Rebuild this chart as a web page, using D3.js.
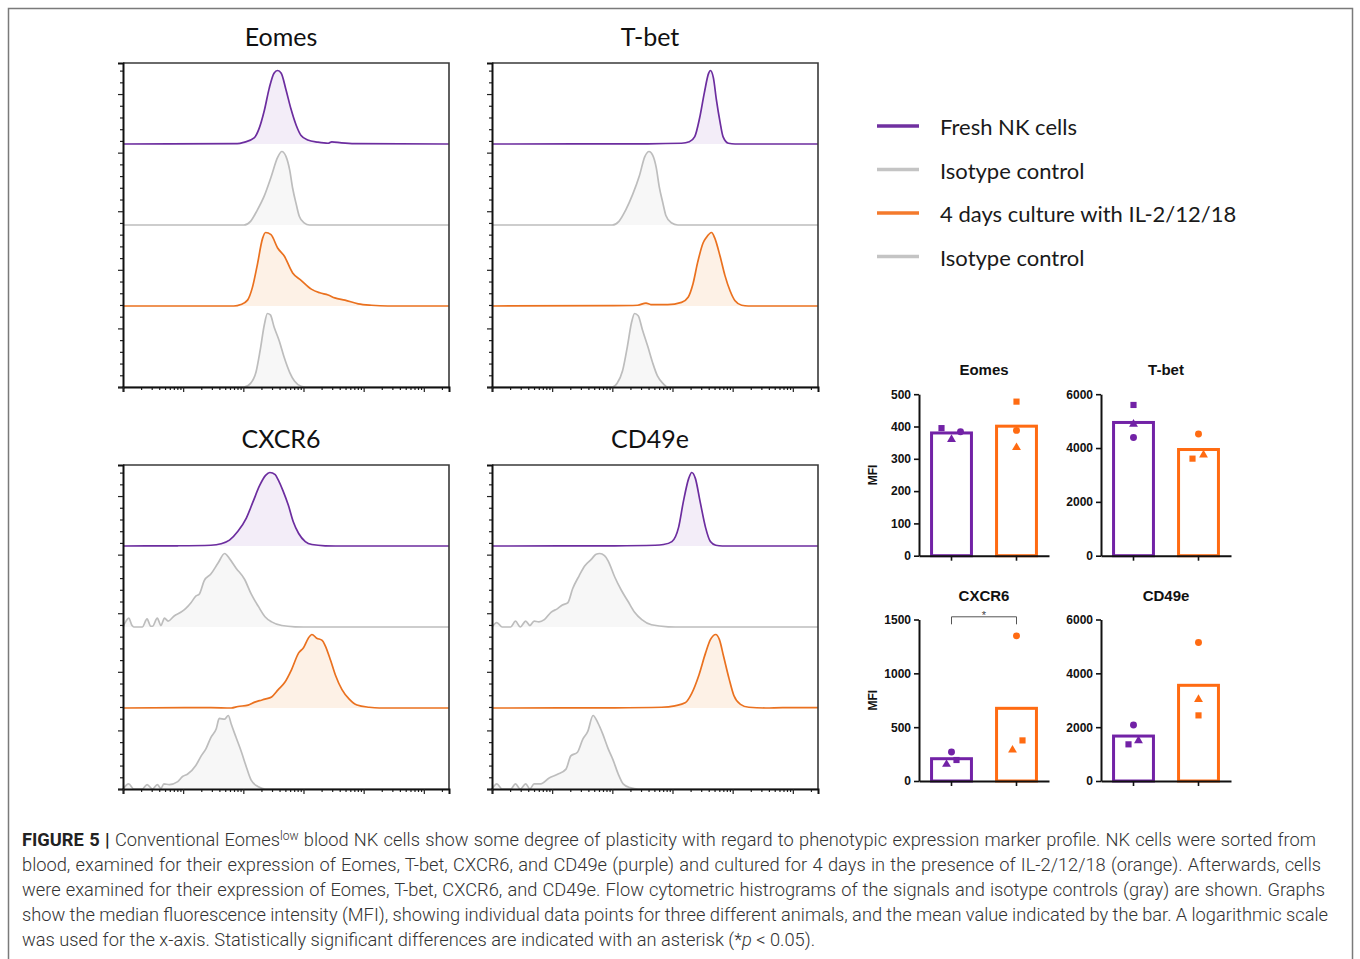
<!DOCTYPE html>
<html><head><meta charset="utf-8">
<script src="https://cdn.jsdelivr.net/npm/d3@7"></script>
<style>body{margin:0;background:#fff} svg{display:block}</style>
</head><body>
<svg id="fig" width="1360" height="959"></svg>
<script>
// ================= DATA =================
const markers = ["Eomes", "T-bet", "CXCR6", "CD49e"];
const legendLabels = ["Fresh NK cells", "Isotype control", "4 days culture with IL-2/12/18", "Isotype control"];
const fluorMax = 262144;                      // x-axis upper limit (log scale)
const xDecades = [1, 10, 100, 1000, 10000, 100000];

// histograms: [log10 fluorescence, height relative to mode]
const eomesFresh = [[0,0],[1.9,0.005],[2.01,0.023],[2.18,0.083],[2.26,0.206],[2.35,0.459],[2.43,0.757],[2.51,0.963],[2.57,1],[2.63,0.963],[2.71,0.734],[2.79,0.482],[2.88,0.252],[2.96,0.115],[3.07,0.055],[3.24,0.025],[3.41,0.01],[3.47,0.03],[3.63,0.015],[3.85,0.004],[5.418,0]];
const eomesIsoFresh = [[0,0],[2.01,0],[2.12,0.05],[2.23,0.2],[2.35,0.4],[2.46,0.65],[2.57,0.92],[2.64,1],[2.71,0.93],[2.77,0.75],[2.82,0.5],[2.88,0.28],[2.93,0.12],[3.01,0.03],[3.1,0],[5.418,0]];
const eomesCultured = [[0,0],[1.84,0],[1.96,0.02],[2.07,0.08],[2.15,0.25],[2.23,0.55],[2.32,0.92],[2.37,1],[2.46,0.97],[2.57,0.79],[2.68,0.68],[2.82,0.45],[2.96,0.35],[3.13,0.23],[3.27,0.18],[3.41,0.15],[3.52,0.11],[3.69,0.08],[3.91,0.03],[4.13,0.01],[4.4,0],[5.418,0]];
const eomesIsoCultured = [[0,0],[2.01,0],[2.12,0.05],[2.21,0.2],[2.28,0.5],[2.35,0.85],[2.4,1],[2.45,0.98],[2.51,0.82],[2.6,0.62],[2.68,0.4],[2.77,0.2],[2.85,0.08],[2.96,0.01],[3.04,0],[5.418,0]];

const tbetFresh = [[0,0],[2.59,0.003],[3.15,0.01],[3.28,0.03],[3.37,0.1],[3.45,0.35],[3.53,0.7],[3.6,0.96],[3.63,1],[3.68,0.9],[3.73,0.6],[3.79,0.3],[3.84,0.1],[3.93,0.01],[4.04,0],[5.418,0]];
const tbetIsoFresh = [[0,0],[2.0,0],[2.11,0.05],[2.22,0.2],[2.34,0.42],[2.45,0.67],[2.54,0.93],[2.61,1],[2.67,0.95],[2.73,0.78],[2.78,0.52],[2.84,0.3],[2.89,0.13],[2.98,0.03],[3.09,0],[5.418,0]];
const tbetCultured = [[0,0],[2.03,0.005],[2.42,0.01],[2.56,0.04],[2.64,0.02],[2.92,0.02],[3.15,0.05],[3.26,0.12],[3.34,0.3],[3.42,0.6],[3.51,0.86],[3.56,0.93],[3.65,1],[3.7,0.93],[3.79,0.68],[3.87,0.42],[3.96,0.2],[4.04,0.07],[4.15,0.01],[4.26,0],[5.418,0]];
const tbetIsoCultured = [[0,0],[2.0,0],[2.08,0.05],[2.17,0.22],[2.25,0.55],[2.32,0.88],[2.37,1],[2.43,0.97],[2.5,0.78],[2.59,0.55],[2.67,0.33],[2.75,0.15],[2.84,0.05],[2.92,0],[5.418,0]];

const cxcr6Fresh = [[0,0],[0.91,0.003],[1.46,0.01],[1.63,0.03],[1.77,0.08],[1.91,0.2],[2.05,0.38],[2.16,0.6],[2.27,0.82],[2.37,0.96],[2.44,1],[2.53,0.97],[2.58,0.9],[2.66,0.75],[2.75,0.55],[2.83,0.33],[2.92,0.17],[3.03,0.06],[3.14,0.02],[3.36,0.003],[3.7,0],[5.418,0]];
const cxcr6IsoFresh = [[0,0],[0.05,0.08],[0.095,0.12],[0.15,0.02],[0.18,0],[0.32,0],[0.4,0.11],[0.46,0.01],[0.49,0.01],[0.57,0.12],[0.63,0.02],[0.69,0.12],[0.75,0.08],[0.85,0.15],[0.96,0.2],[1.04,0.25],[1.13,0.33],[1.21,0.42],[1.27,0.45],[1.35,0.63],[1.46,0.72],[1.58,0.87],[1.69,1],[1.77,0.93],[1.88,0.8],[2.02,0.65],[2.13,0.45],[2.25,0.28],[2.36,0.14],[2.47,0.07],[2.64,0.02],[2.86,0.003],[3.14,0],[5.418,0]];
const cxcr6Cultured = [[0,0],[1.46,0.005],[1.8,0],[1.91,0.02],[2.08,0.04],[2.19,0.08],[2.27,0.1],[2.36,0.12],[2.47,0.15],[2.58,0.25],[2.69,0.35],[2.8,0.52],[2.92,0.75],[3.0,0.82],[3.08,0.95],[3.14,1],[3.22,0.95],[3.31,0.92],[3.36,0.85],[3.45,0.65],[3.53,0.45],[3.64,0.25],[3.76,0.12],[3.89,0.04],[4.09,0.01],[4.26,0],[5.418,0]];
const cxcr6IsoCultured = [[0,0],[0.095,0.07],[0.18,0],[0.32,0],[0.4,0.06],[0.49,0],[0.57,0.06],[0.63,0.01],[0.68,0.07],[0.77,0.06],[0.91,0.1],[0.99,0.17],[1.07,0.2],[1.21,0.32],[1.3,0.45],[1.38,0.55],[1.46,0.7],[1.55,0.82],[1.6,0.96],[1.69,0.95],[1.75,1],[1.8,0.88],[1.88,0.7],[1.97,0.5],[2.05,0.3],[2.13,0.12],[2.25,0.03],[2.36,0],[5.418,0]];

const cd49eFresh = [[0,0],[2.04,0.003],[2.71,0.01],[2.85,0.02],[2.99,0.06],[3.1,0.25],[3.18,0.6],[3.27,0.92],[3.32,1],[3.38,0.92],[3.46,0.6],[3.55,0.25],[3.63,0.06],[3.72,0.01],[3.83,0],[5.418,0]];
const cd49eIsoFresh = [[0,0],[0.08,0.06],[0.17,0],[0.31,0],[0.39,0.08],[0.47,0],[0.56,0.08],[0.63,0.02],[0.7,0.08],[0.78,0.07],[0.87,0.1],[0.98,0.2],[1.09,0.25],[1.17,0.3],[1.26,0.33],[1.34,0.52],[1.45,0.7],[1.54,0.83],[1.65,0.92],[1.73,0.99],[1.79,1],[1.87,0.97],[1.93,0.9],[2.04,0.68],[2.15,0.5],[2.26,0.35],[2.37,0.2],[2.49,0.1],[2.65,0.03],[2.93,0.003],[3.16,0],[5.418,0]];
const cd49eCultured = [[0,0],[2.04,0.003],[2.82,0.01],[3.04,0.03],[3.21,0.07],[3.32,0.2],[3.44,0.45],[3.55,0.75],[3.63,0.93],[3.72,1],[3.78,0.93],[3.85,0.7],[3.94,0.4],[4.02,0.17],[4.13,0.05],[4.27,0.01],[4.55,0],[4.83,0.005],[5.418,0.005]];
const cd49eIsoCultured = [[0,0],[0.08,0.07],[0.17,0],[0.31,0],[0.39,0.07],[0.47,0],[0.56,0.07],[0.63,0],[0.7,0.07],[0.81,0.07],[0.95,0.15],[1.09,0.2],[1.23,0.27],[1.31,0.45],[1.42,0.5],[1.51,0.68],[1.59,0.78],[1.68,1],[1.76,0.9],[1.84,0.75],[1.93,0.55],[2.01,0.4],[2.1,0.2],[2.18,0.07],[2.29,0.02],[2.43,0],[5.418,0]];

// bar charts (MFI)
const groups = ["Fresh", "Cultured"];
const barYMax = [500, 6000, 1500, 6000];
const barYStep = [100, 2000, 500, 2000];
const freshMean = [380, 4950, 207, 1670];
const culturedMean = [401, 3945, 675, 3555];
const pointShapes = ["square", "triangle", "circle"];
const freshPoints = [[395, 360, 384], [5600, 4885, 4390], [195, 155, 269], [1362, 1496, 2078]];
const culturedPoints = [[477, 335, 388], [3606, 3743, 4524], [377, 288, 1348], [2438, 3031, 5146]];
const significance = [{ marker: "CXCR6", level: 1525, label: "*" }];
const yAxisLabel = "MFI";

// caption
const captionLines = [
  [["FIGURE 5 | ", "b"], ["Conventional Eomes", ""], ["low", "sup"], [" blood NK cells show some degree of plasticity with regard to phenotypic expression marker profile. NK cells were sorted from", "after"]],
  [["blood, examined for their expression of Eomes, T-bet, CXCR6, and CD49e (purple) and cultured for 4 days in the presence of IL-2/12/18 (orange). Afterwards, cells", ""]],
  [["were examined for their expression of Eomes, T-bet, CXCR6, and CD49e. Flow cytometric histrograms of the signals and isotype controls (gray) are shown. Graphs", ""]],
  [["show the median fluorescence intensity (MFI), showing individual data points for three different animals, and the mean value indicated by the bar. A logarithmic scale", ""]],
  [["was used for the x-axis. Statistically significant differences are indicated with an asterisk (*", ""], ["p", "i"], [" < 0.05).", ""]]
];

const histData = {
  "Eomes": [eomesFresh, eomesIsoFresh, eomesCultured, eomesIsoCultured],
  "T-bet": [tbetFresh, tbetIsoFresh, tbetCultured, tbetIsoCultured],
  "CXCR6": [cxcr6Fresh, cxcr6IsoFresh, cxcr6Cultured, cxcr6IsoCultured],
  "CD49e": [cd49eFresh, cd49eIsoFresh, cd49eCultured, cd49eIsoCultured]
};

// ================= STYLE / LAYOUT =================
const svg = d3.select("#fig");
const histStroke = ["#6c2d9f", "#bdbdbd", "#ea711f", "#bdbdbd"];
const histFill = ["#f3edf8", "#f7f7f7", "#fdf1e6", "#f7f7f7"];
const legendStroke = ["#7030a0", "#c4c4c4", "#f47a2c", "#c4c4c4"];
const barColor = ["#7222a6", "#ff6b12"];
const PW = 326, PH = 324;
const histLayout = [{x:123,y:63},{x:492,y:63},{x:123,y:465},{x:492,y:465}];
const BW = 130, BH = 161.5;
const barLayout = [{x:919,y:394.2},{x:1101,y:394.2},{x:919,y:619.5},{x:1101,y:619.5}];
const jitter = [[-10,0,9], [0,0,0], [5,-5,0], [-5,5,0]];
const jitterC = [[0,0,0],[-6,5,0],[6,-4,0],[0,0,0]];

// figure frame
svg.append("rect").attr("x", 8.5).attr("y", 8.5).attr("width", 1344).attr("height", 1000)
  .attr("fill", "none").attr("stroke", "#7a7a7a").attr("stroke-width", 1.5);

// ---------- histogram panels ----------
markers.forEach((m, i) => {
  const L = histLayout[i];
  const g = svg.append("g").attr("transform", `translate(${L.x},${L.y})`);
  const x = d3.scaleLog().domain([1, fluorMax]).range([0, PW]);
  const row = d3.scaleBand().domain(d3.range(4)).range([0, PH]);
  const hS = d3.scaleLinear().domain([0, 1]).range([0, 73.5]);
  const yS = d3.scaleLinear().domain([0, 27.65]).range([PH, 0]);

  histData[m].forEach((pts, k) => {
    const base = row(k) + row.bandwidth();
    const area = d3.area().x(d => x(Math.pow(10, d[0]))).y0(base).y1(d => base - hS(d[1])).curve(d3.curveMonotoneX);
    g.append("path").attr("d", area(pts)).attr("fill", histFill[k]);
    g.append("path").attr("d", area.lineY1()(pts)).attr("fill", "none")
      .attr("stroke", histStroke[k]).attr("stroke-width", 1.7).attr("stroke-linejoin", "round");
  });

  // frame top/right
  g.append("path").attr("d", `M0,0H${PW}V${PH}`).attr("fill", "none").attr("stroke", "#3a3a3a").attr("stroke-width", 1.6);

  const yMajor = [0, 5, 10, 15, 20, 25];
  const yMinor = d3.range(0, 28).filter(v => v % 5 !== 0);
  g.append("g").call(d3.axisLeft(yS).tickValues(yMinor).tickSize(3).tickFormat("")).call(a => a.select(".domain").remove());
  g.append("g").call(d3.axisLeft(yS).tickValues(yMajor).tickSizeInner(5).tickSizeOuter(5).tickFormat(""));

  const xMinor = [];
  for (let e = 0; e <= 5; e++) for (let k = 2; k <= 9; k++) { const v = k * Math.pow(10, e); if (v < fluorMax) xMinor.push(v); }
  g.append("g").attr("transform", `translate(0,${PH})`).call(d3.axisBottom(x).tickValues(xMinor).tickSize(3).tickFormat("")).call(a => a.select(".domain").remove());
  g.append("g").attr("transform", `translate(0,${PH})`).call(d3.axisBottom(x).tickValues(xDecades).tickSizeInner(5).tickSizeOuter(5).tickFormat(""));

  g.selectAll(".domain").attr("stroke", "#111").attr("stroke-width", 2);
  g.selectAll(".tick line").attr("stroke", "#222").attr("stroke-width", 1.2);

  svg.append("text").attr("x", L.x + 158).attr("y", L.y - 17).attr("text-anchor", "middle")
    .attr("font-family", "Lato, 'Open Sans', sans-serif").attr("font-size", 25).attr("fill", "#111").text(m);
});

// ---------- legend ----------
const lgY = d3.scaleLinear().domain([0, 3]).range([126, 256.5]);
legendLabels.forEach((t, k) => {
  svg.append("line").attr("x1", 877).attr("x2", 919).attr("y1", lgY(k)).attr("y2", lgY(k))
    .attr("stroke", legendStroke[k]).attr("stroke-width", 3.5);
  svg.append("text").attr("x", 940).attr("y", lgY(k) + 9).attr("font-family", "Lato, 'Open Sans', sans-serif")
    .attr("font-size", 22).attr("fill", "#1a1a1a").text(t);
});

// ---------- bar charts ----------
const symType = { square: d3.symbolSquare, triangle: d3.symbolTriangle, circle: d3.symbolCircle };
const fontB = "'Liberation Sans', Arial, Helvetica, sans-serif";
markers.forEach((m, i) => {
  const L = barLayout[i];
  const g = svg.append("g").attr("transform", `translate(${L.x},${L.y})`);
  const yS = d3.scaleLinear().domain([0, barYMax[i]]).range([BH, 0]);
  const xS = d3.scaleBand().domain(groups).range([0, BW]).paddingInner(0.34).paddingOuter(0.17);
  const means = [freshMean[i], culturedMean[i]];
  const pts = [freshPoints[i], culturedPoints[i]];

  groups.forEach((gr, j) => {
    g.append("rect").attr("x", xS(gr) + 1.5).attr("width", xS.bandwidth() - 3)
      .attr("y", yS(means[j])).attr("height", BH - yS(means[j]))
      .attr("fill", "#fff").attr("stroke", barColor[j]).attr("stroke-width", 3);
  });
  groups.forEach((gr, j) => {
    pts[j].forEach((v, s) => {
      const dx = j === 0 ? jitter[i][s] : jitterC[i][s];
      const size = pointShapes[s] === "triangle" ? 34 : 38;
      g.append("path").attr("d", d3.symbol().type(symType[pointShapes[s]]).size(size)())
        .attr("transform", `translate(${xS(gr) + xS.bandwidth() / 2 + dx},${yS(v)})`)
        .attr("fill", barColor[j]);
    });
  });

  const ya = g.append("g").call(d3.axisLeft(yS).tickValues(d3.range(0, barYMax[i] + 1, barYStep[i]))
    .tickFormat(d3.format("d")).tickSizeInner(5).tickSizeOuter(0).tickPadding(3));
  g.append("g").attr("transform", `translate(0,${BH})`).call(d3.axisBottom(xS).tickSizeInner(5).tickSizeOuter(0).tickFormat(""));
  g.selectAll(".domain").attr("stroke", "#111").attr("stroke-width", 2);
  g.selectAll(".tick line").attr("stroke", "#111").attr("stroke-width", 1.6);
  ya.selectAll("text").attr("font-family", fontB).attr("font-weight", "bold").attr("font-size", 12).attr("fill", "#111");

  svg.append("text").attr("x", L.x + BW / 2).attr("y", L.y - 19).attr("text-anchor", "middle")
    .attr("font-family", fontB).attr("font-weight", "bold").attr("font-size", 15).attr("fill", "#111").text(m);
  if (i % 2 === 0) {
    svg.append("text").attr("transform", `translate(${L.x - 42},${L.y + BH / 2}) rotate(-90)`)
      .attr("text-anchor", "middle").attr("font-family", fontB).attr("font-weight", "bold")
      .attr("font-size", 12).attr("fill", "#111").text(yAxisLabel);
  }
  significance.filter(s => s.marker === m).forEach(s => {
    const by = yS(s.level);
    const x1 = xS(groups[0]) + xS.bandwidth() / 2, x2 = xS(groups[1]) + xS.bandwidth() / 2;
    g.append("path").attr("d", `M${x1},${by + 7.5}V${by}H${x2}V${by + 7.5}`)
      .attr("fill", "none").attr("stroke", "#555").attr("stroke-width", 1);
    g.append("text").attr("x", (x1 + x2) / 2).attr("y", by + 2.5).attr("text-anchor", "middle")
      .attr("font-family", fontB).attr("font-size", 11).attr("fill", "#444").text(s.label);
  });
});

// ---------- caption ----------
const capFont = "Roboto, 'Liberation Sans', sans-serif";
const capX = 22, capY0 = 846, capLH = 25;
const capRight = [1316, 1321, 1325, 1328, null];
function buildLine(segs, y, size) {
  const t = svg.append("text").attr("x", capX).attr("y", y).attr("font-family", capFont)
    .attr("font-size", size).attr("font-weight", 300).attr("fill", "#333");
  segs.forEach(([txt, st]) => {
    const ts = t.append("tspan").text(txt);
    if (st === "b") ts.attr("font-weight", 700).attr("fill", "#222");
    if (st === "i") ts.attr("font-style", "italic");
    if (st === "sup") ts.attr("font-size", size * 0.66).attr("dy", -6);
    if (st === "after") ts.attr("dy", 6);
  });
  return t;
}
// font size so that the (unjustified) last line has its natural width
let probe = buildLine(captionLines[4], -100, 16);
const w16 = probe.node().getComputedTextLength();
probe.remove();
const capSize = 16 * (816 - capX) / w16;
captionLines.forEach((segs, li) => {
  const t = buildLine(segs, capY0 + li * capLH, capSize);
  if (capRight[li]) {
    const w = t.node().getComputedTextLength();
    const spaces = segs.map(s => s[0]).join("").split(" ").length - 1;
    t.attr("word-spacing", ((capRight[li] - capX) - w) / spaces);
  }
});
</script>
</body></html>
